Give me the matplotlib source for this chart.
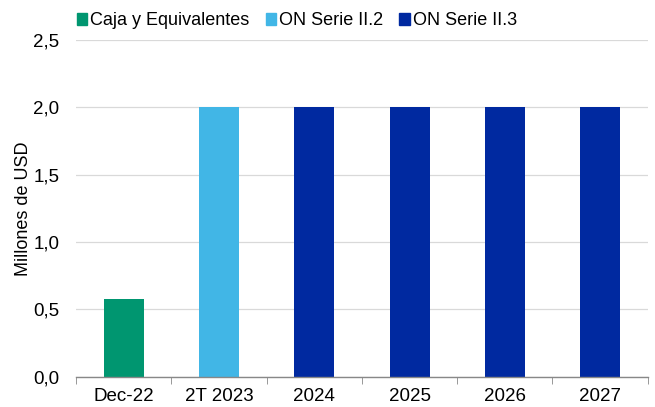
import matplotlib
matplotlib.use("Agg")
import matplotlib.pyplot as plt
import numpy as np
from matplotlib.patches import Patch

plt.rcParams['font.family'] = ['Liberation Sans', 'DejaVu Sans']

categories = ["Dec-22", "2T 2023", "2024", "2025", "2026", "2027"]
values = [0.58, 2.0, 2.0, 2.0, 2.0, 2.0]
series = ["Caja y Equivalentes", "ON Serie II.2", "ON Serie II.3", "ON Serie II.3",
          "ON Serie II.3", "ON Serie II.3"]
legend_labels = ["Caja y Equivalentes", "ON Serie II.2", "ON Serie II.3"]
colors = {"Caja y Equivalentes": "#009670",
          "ON Serie II.2": "#41B6E6",
          "ON Serie II.3": "#0029A0"}

fig = plt.figure(figsize=(6.55, 4.07), dpi=100)
ax = fig.add_axes([0.116, 0.074, 0.873, 0.828])

x = np.arange(len(categories))
bar_colors = [colors[s] for s in series]
ax.bar(x, values, width=0.42, color=bar_colors, zorder=3)

ax.set_xlim(-0.5, len(categories) - 0.5)
ax.set_ylim(0, 2.5)
yt = np.arange(0, 2.51, 0.5)
ax.set_yticks(yt)
ax.set_yticklabels([f"{v:.1f}".replace(".", ",") for v in yt], fontsize=13.5)
ax.set_xticks(x)
ax.set_xticklabels(categories, fontsize=13.5)
ax.set_xticks(np.arange(-0.5, len(categories), 1), minor=True)
ax.tick_params(axis="x", which="major", length=0, pad=8)
ax.tick_params(axis="x", which="minor", length=5, color="#888888")
ax.tick_params(axis="y", length=0, pad=12)
ax.grid(axis="y", color="#d9d9d9", linewidth=0.9, zorder=0)

for s in ["top", "right", "left"]:
    ax.spines[s].set_visible(False)
ax.spines["bottom"].set_color("#888888")
ax.spines["bottom"].set_linewidth(1.0)
ax.spines["bottom"].set_zorder(4)

ax.set_ylabel("Millones de USD", fontsize=13, labelpad=1)

handles = [Patch(color=colors[l], label=l) for l in legend_labels]
fig.legend(handles=handles, loc="upper left", bbox_to_anchor=(0.092, 1.01), ncol=3,
           frameon=False, fontsize=13, handlelength=0.6, handleheight=0.6,
           handletextpad=0.15, columnspacing=0.9)

fig.savefig("out.png", dpi=100)
